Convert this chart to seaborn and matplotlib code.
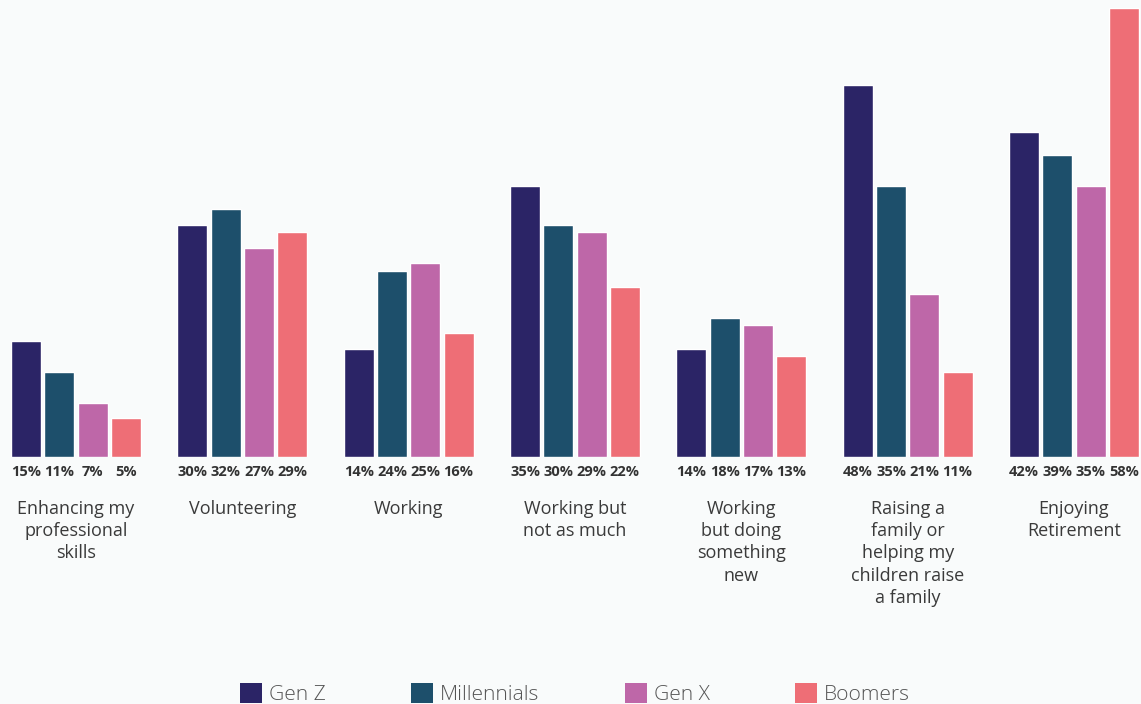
import matplotlib
matplotlib.use("Agg")
import matplotlib.pyplot as plt
import matplotlib.patches as mpatches
import seaborn as sns
import pandas as pd

# Survey categories and shares (%) per generation
categories = [
    "Enhancing my\nprofessional\nskills",
    "Volunteering",
    "Working",
    "Working but\nnot as much",
    "Working\nbut doing\nsomething\nnew",
    "Raising a\nfamily or\nhelping my\nchildren raise\na family",
    "Enjoying\nRetirement",
]
generations = ["Gen Z", "Millennials", "Gen X", "Boomers"]
gen_z = [15, 30, 14, 35, 14, 48, 42]
millennials = [11, 32, 24, 30, 18, 35, 39]
gen_x = [7, 27, 25, 29, 17, 21, 35]
boomers = [5, 29, 16, 22, 13, 11, 58]
colors = ["#2b2466", "#1d4f6b", "#be67a8", "#ee6e76"]

series = [gen_z, millennials, gen_x, boomers]
df = pd.DataFrame(
    [(c, g, v) for g, vals in zip(generations, series) for c, v in zip(categories, vals)],
    columns=["category", "generation", "value"],
)

bg = "#f9fbfb"
sns.set_theme(style="white")
plt.rcParams["font.family"] = ["Open Sans", "DejaVu Sans"]

fig = plt.figure(figsize=(11.41, 7.04), dpi=100, facecolor=bg)
ax = fig.add_axes([0, 0.3509, 1, 0.6378])
ax.set_facecolor(bg)

sns.barplot(
    data=df, x="category", y="value", hue="generation",
    order=categories, hue_order=generations, palette=colors,
    width=0.8, gap=0.1, saturation=1, legend=False, ax=ax,
)

ax.set_xlim(-0.457, 6.403)
ax.set_ylim(0, 58)
for s in ax.spines.values():
    s.set_visible(False)
ax.set_xlabel("")
ax.set_ylabel("")
ax.set_yticks([])
ax.set_xticks(range(len(categories)))
ax.set_xticklabels(categories, fontsize=13, color="#3a3a3a", linespacing=1.3)
ax.tick_params(axis="x", length=0, pad=31)

# Value labels below each bar
for container, vals in zip(ax.containers, series):
    for bar, v in zip(container, vals):
        ax.annotate(
            f"{v}%", xy=(bar.get_x() + bar.get_width() / 2, 0),
            xytext=(0, -10.5), textcoords="offset points",
            ha="center", va="center", fontsize=10.5, fontweight="bold",
            color="#333333", annotation_clip=False,
        )

handles = [mpatches.Patch(facecolor=c, edgecolor="none") for c in colors]
leg = fig.legend(
    handles, generations, loc="center", bbox_to_anchor=(0.504, 0.0142),
    ncol=4, frameon=False, fontsize=15.1, handlelength=1.05, handleheight=1.05,
    handletextpad=0.35, columnspacing=4.05, borderaxespad=0,
)
for t in leg.get_texts():
    t.set_color("#555555")
    t.set_fontweight("light")

fig.savefig("out.png", dpi=100, facecolor=bg)
